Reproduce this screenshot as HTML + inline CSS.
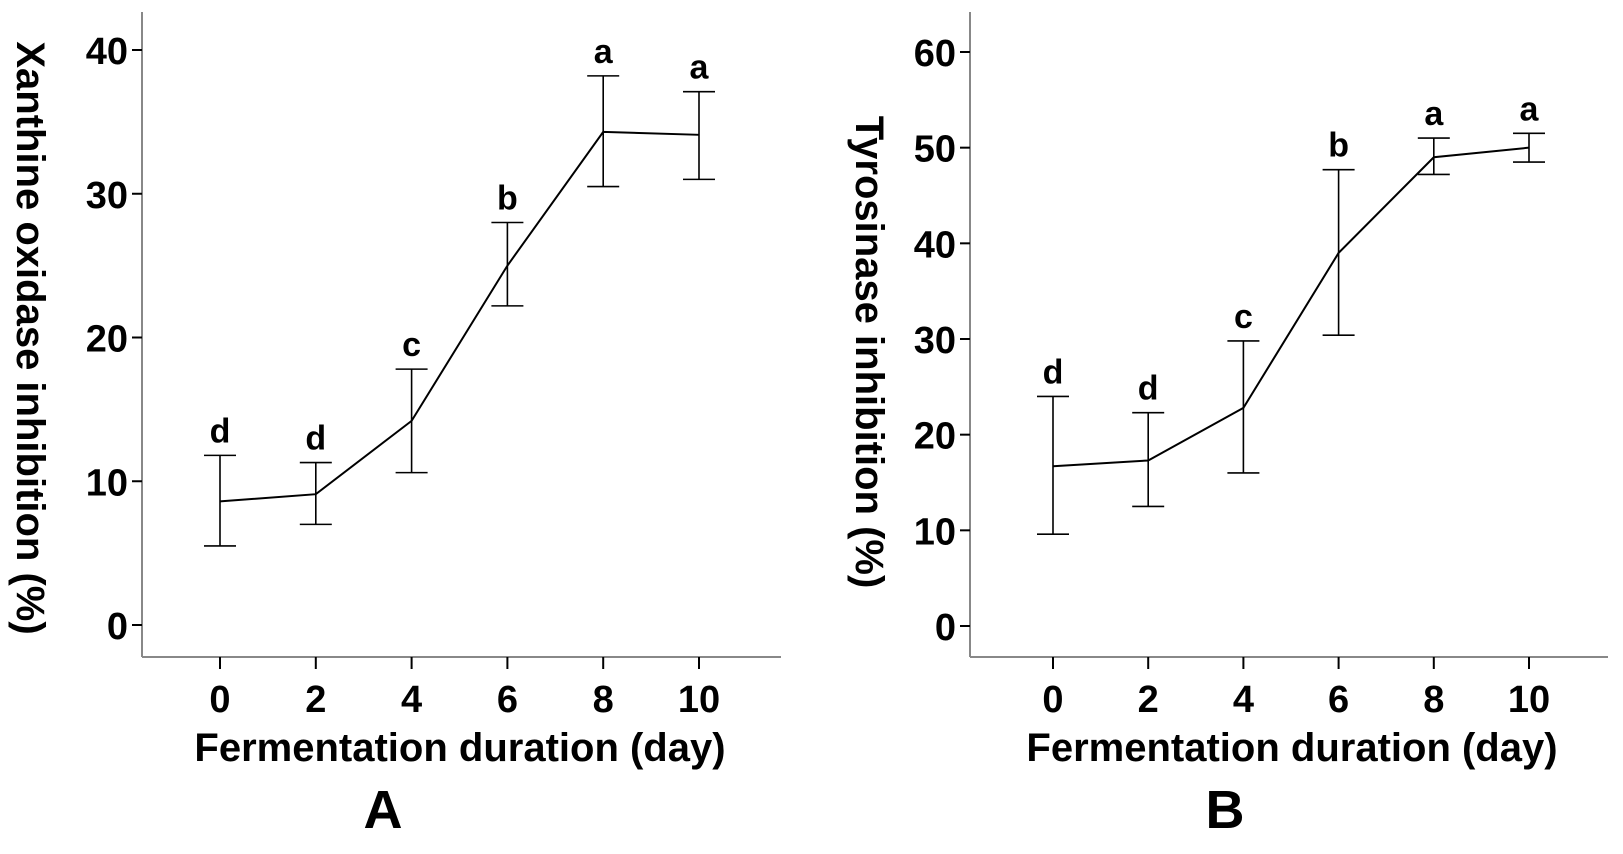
<!DOCTYPE html>
<html><head><meta charset="utf-8"><style>
body{margin:0;background:#fff}
svg text{font-family:"Liberation Sans",Arial,sans-serif;font-weight:bold;fill:#000}
</style></head><body>
<svg id="chart" width="1623" height="849" xmlns="http://www.w3.org/2000/svg"></svg>
<script>
const days=[0,2,4,6,8,10];
const xoMean=[8.6,9.1,14.2,25.0,34.3,34.1];
const xoUpper=[11.8,11.3,17.8,28.0,38.2,37.1];
const xoLower=[5.5,7.0,10.6,22.2,30.5,31.0];
const xoLetters=["d","d","c","b","a","a"];
const tyMean=[16.7,17.3,22.8,39.0,49.0,50.0];
const tyUpper=[24.0,22.3,29.8,47.7,51.0,51.5];
const tyLower=[9.6,12.5,16.0,30.4,47.2,48.5];
const tyLetters=["d","d","c","b","a","a"];
const xoTicks=[0,10,20,30,40];
const tyTicks=[0,10,20,30,40,50,60];
const xTicks=[0,2,4,6,8,10];

const svg=document.getElementById('chart');
const NS='http://www.w3.org/2000/svg';
function mk(tag,attrs,parent){const e=document.createElementNS(NS,tag);for(const k in attrs)e.setAttribute(k,attrs[k]);(parent||svg).appendChild(e);return e;}

function panel(cfg){
  const g=mk('g',{});
  
  
  const X=v=>cfg.x0+(v-0)*(cfg.x10-cfg.x0)/10;
  const Y=v=>cfg.y0+(v-cfg.ymin)*(cfg.ytop-cfg.y0)/(cfg.ymax-cfg.ymin);
  const ya=mk('line',{x1:cfg.ax,y1:12,x2:cfg.ax,y2:cfg.ay,stroke:'#888','stroke-width':2},g);
  
  const xa=mk('line',{x1:cfg.ax,y1:cfg.ay,x2:cfg.axr,y2:cfg.ay,stroke:'#888','stroke-width':2},g);
  
  cfg.yt.forEach(v=>{
    mk('line',{x1:cfg.ax-10,y1:Y(v),x2:cfg.ax,y2:Y(v),stroke:'#000','stroke-width':2},g);
    const t=mk('text',{x:cfg.ax-14,y:Y(v)+14,'text-anchor':'end','font-size':38},g);
    
    t.textContent=v;
  });
  xTicks.forEach(v=>{
    mk('line',{x1:X(v),y1:cfg.ay,x2:X(v),y2:cfg.ay+12,stroke:'#000','stroke-width':2},g);
    const t=mk('text',{x:X(v),y:712,'text-anchor':'middle','font-size':38},g);
    
    t.textContent=v;
  });
  const pts=days.map((d,i)=>X(d)+','+Y(cfg.mean[i])).join(' ');
  const pl=mk('polyline',{points:pts,fill:'none',stroke:'#000','stroke-width':2},g);
  
  days.forEach((d,i)=>{
    const x=X(d),yu=Y(cfg.up[i]),yl=Y(cfg.lo[i]);
    const eb=mk('path',{d:`M${x},${yu}V${yl}M${x-16},${yu}H${x+16}M${x-16},${yl}H${x+16}`,stroke:'#000','stroke-width':1.6,fill:'none'},g);
    
    const t=mk('text',{x:x,y:yu-13,'text-anchor':'middle','font-size':34},g);
    
    t.textContent=cfg.letters[i];
  });
  const xt=mk('text',{x:cfg.xtitle,y:761,'text-anchor':'middle','font-size':40},g);
  
  xt.textContent='Fermentation duration (day)';
  const yt=mk('text',{x:0,y:0,'text-anchor':'middle','font-size':cfg.yfs,transform:`translate(${cfg.ytx},${cfg.yty}) rotate(90)`},g);
  
  yt.textContent=cfg.ytitle;
  const pl2=mk('text',{x:cfg.plx,y:828,'text-anchor':'middle','font-size':54},g);
  
  pl2.textContent=cfg.label;
}
panel({name:'panel-a',ax:142,ay:657,axr:781,x0:220,x10:699,y0:625,ymin:0,ytop:50,ymax:40,yt:xoTicks,
  mean:xoMean,up:xoUpper,lo:xoLower,letters:xoLetters,xtitle:460,ytitle:'Xanthine oxidase inhibition (%)',yfs:40,ytx:17,yty:338,plx:383,label:'A'});
panel({name:'panel-b',ax:970,ay:657,axr:1608,x0:1053,x10:1529,y0:626,ymin:0,ytop:52,ymax:60,yt:tyTicks,
  mean:tyMean,up:tyUpper,lo:tyLower,letters:tyLetters,xtitle:1292,ytitle:'Tyrosinase inhibition (%)',yfs:40,ytx:856,yty:352,plx:1225,label:'B'});
</script>
</body></html>
